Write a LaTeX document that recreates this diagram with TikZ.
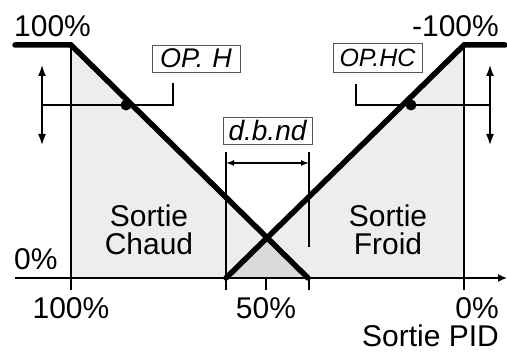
\documentclass[tikz,border=0pt]{standalone}
\usepackage{fontspec}
\setmainfont{Liberation Sans}
\usetikzlibrary{arrows.meta}
\definecolor{lightfill}{HTML}{EDEDED}
\definecolor{darkfill}{HTML}{DADADA}
\definecolor{boxline}{HTML}{555555}
\begin{document}
\begin{tikzpicture}[x=1pt,y=-1pt,
  thickline/.style={line width=5.5pt,line cap=round,line join=miter},
  thinline/.style={line width=1.5pt},
  lbl/.style={inner sep=0pt,font=\fontsize{30}{28}\selectfont},
  segbox/.style={draw=boxline,line width=0.9pt,inner sep=0pt,
    font=\fontsize{27}{27}\selectfont\itshape},
  dblarrow/.style={thinline,{Latex[length=11pt,width=8pt]}-{Latex[length=11pt,width=8pt]}},
  dot/.style={circle,fill=black,inner sep=0pt,minimum size=11pt}]
\useasboundingbox (0,0) rectangle (507,352);
% key points
\coordinate (tl) at (15,45);
\coordinate (lt) at (71,45);
\coordinate (lb) at (71,278);
\coordinate (lend) at (308,278);
\coordinate (rstart) at (226,278);
\coordinate (rt) at (464,45);
\coordinate (rb) at (464,278);
\coordinate (tr) at (505,45);
\coordinate (cross) at (267,238);
% fills
\fill[lightfill] (lt) -- (lend) -- (lb) -- cycle;
\fill[lightfill] (rt) -- (rb) -- (rstart) -- cycle;
\fill[darkfill] (rstart) -- (cross) -- (lend) -- cycle;
% verticals and ticks
\coordinate (ltick) at (71,290);
\coordinate (rtick) at (464,290);
\draw[thinline] (lt) -- (ltick);
\draw[thinline] (rt) -- (rtick);
\coordinate (dbl) at (226,152);
\coordinate (dblb) at (226,290);
\coordinate (dbr) at (309,152);
\coordinate (dbrb) at (309,247);
\coordinate (dbrt1) at (309,278);
\coordinate (dbrt2) at (309,290);
\coordinate (mt1) at (266,278);
\coordinate (mt2) at (266,290);
\draw[thinline] (dbl) -- (dblb);
\draw[thinline] (dbr) -- (dbrb);
\draw[thinline] (dbrt1) -- (dbrt2);
\draw[thinline] (mt1) -- (mt2);
% axis
\coordinate (ax0) at (15,278);
\coordinate (ax1) at (507,278);
\draw[thinline,-{Latex[length=9pt,width=8pt]}] (ax0) -- (ax1);
% thick characteristic lines
\draw[thickline] (tl) -- (lt) -- (lend);
\draw[thickline] (rstart) -- (rt) -- (tr);
% dead band arrow
\coordinate (dba) at (226,163);
\coordinate (dbb) at (309,163);
\draw[thinline,{Latex[length=8pt,width=6pt]}-{Latex[length=8pt,width=6pt]}] (dba) -- (dbb);
% left adjust arrow and leader
\coordinate (la1) at (42,65);
\coordinate (la2) at (42,145);
\coordinate (lam) at (42,105);
\draw[dblarrow] (la1) -- (la2);
\node[dot] (ldot) at (126,105) {};
\coordinate (lleadtop) at (173,83);
\draw[thinline] (lleadtop) |- (lam);
% right adjust arrow and leader
\coordinate (ra1) at (490,65);
\coordinate (ra2) at (490,145);
\coordinate (ram) at (490,105);
\draw[dblarrow] (ra1) -- (ra2);
\node[dot] (rdot) at (411,105) {};
\coordinate (rleadtop) at (356,84);
\draw[thinline] (rleadtop) |- (ram);
% seven-segment style labels
\node[segbox,minimum width=88pt,minimum height=27pt] (oph) at (196,58.5) {OP.\,\,H};
\node[segbox,minimum width=89pt,minimum height=29pt,font=\fontsize{25}{25}\selectfont\itshape] (ophc) at (377.5,57.5) {OP.HC};
\node[segbox,minimum width=89pt,minimum height=27pt,font=\fontsize{28}{28}\selectfont\itshape] (dbnd) at (267.5,130.5) {d.b.nd};
% texts
\node[lbl,anchor=base west] (t100) at (14,37) {100\%};
\node[lbl,anchor=base east] (tm100) at (499,37) {-100\%};
\node[lbl,anchor=base west] (t0l) at (14,270) {0\%};
\node[lbl,anchor=base] (b100) at (71,319) {100\%};
\node[lbl,anchor=base] (b50) at (266,319) {50\%};
\node[lbl,anchor=base east] (b0) at (499,319) {0\%};
\node[lbl,anchor=base east] (pid) at (499,347) {Sortie PID};
\node[lbl,anchor=north,align=center] (chaud) at (149,205) {Sortie\\Chaud};
\node[lbl,anchor=north,align=center] (froid) at (388,205) {Sortie\\Froid};
\end{tikzpicture}
\end{document}
